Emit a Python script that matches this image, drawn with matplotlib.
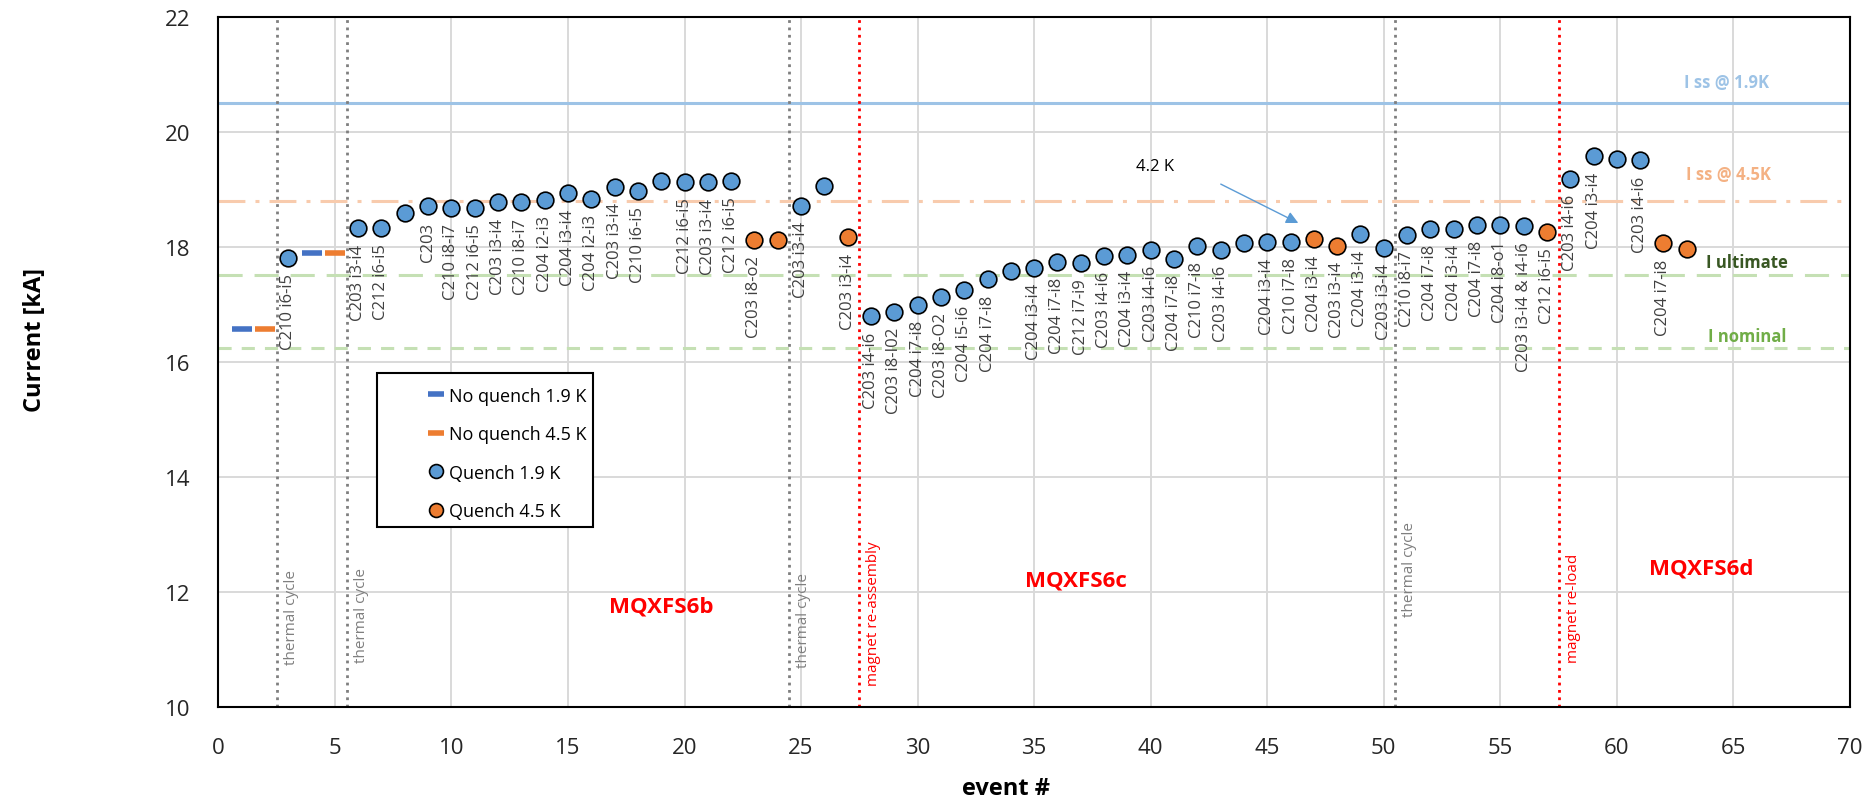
import matplotlib
matplotlib.use("Agg")
import matplotlib.pyplot as plt
from matplotlib.lines import Line2D
from matplotlib.patches import Rectangle

plt.rcParams['font.family'] = ['Open Sans', 'DejaVu Sans']

# no-quench ramps (drawn as short dashes)
nq19_x = [1, 4]
nq19_y = [16.57, 17.89]
nq45_x = [2, 5]
nq45_y = [16.57, 17.89]

# quenches at 1.9 K
q19_x = [3, 6, 7, 8, 9, 10, 11, 12, 13, 14, 15, 16, 17, 18, 19, 20, 21, 22,
         25, 26,
         28, 29, 30, 31, 32, 33, 34, 35, 36, 37, 38, 39, 40, 41, 42, 43, 44, 45, 46,
         49, 50, 51, 52, 53, 54, 55, 56,
         58, 59, 60, 61]
q19_y = [17.81, 18.32, 18.32, 18.59, 18.70, 18.68, 18.68, 18.77, 18.77, 18.82, 18.93, 18.83,
         19.04, 18.97, 19.14, 19.12, 19.12, 19.14,
         18.71, 19.06,
         16.79, 16.87, 16.99, 17.12, 17.25, 17.43, 17.57, 17.63, 17.74, 17.71, 17.84, 17.86,
         17.95, 17.79, 18.02, 17.95, 18.06, 18.08, 18.09,
         18.22, 17.98, 18.20, 18.31, 18.31, 18.38, 18.38, 18.36,
         19.18, 19.57, 19.53, 19.50]
q19_lab = ["C210 i6-i5", "C203 i3-i4", "C212 i6-i5", "", "C203", "C210 i8-i7", "C212 i6-i5",
           "C203 i3-i4", "C210 i8-i7", "C204 i2-i3", "C204 i3-i4", "C204 i2-i3", "C203 i3-i4",
           "C210 i6-i5", "", "C212 i6-i5", "C203 i3-i4", "C212 i6-i5",
           "C203 i3-i4", "",
           "C203 i4-i6", "C203 i8-I02", "C204 i7-i8", "C203 i8-O2", "C204 i5-i6", "C204 i7-i8",
           "", "C204 i3-i4", "C204 i7-i8", "C212 i7-i9", "C203 i4-i6", "C204 i3-i4",
           "C203 i4-i6", "C204 i7-i8", "C210 i7-i8", "C203 i4-i6", "", "C204 i3-i4", "C210 i7-i8",
           "C204 i3-i4", "C203 i3-i4", "C210 i8-i7", "C204 i7-i8", "C204 i3-i4", "C204 i7-i8",
           "C204 i8-o1", "C203 i3-i4 & i4-i6",
           "C203 i4-i6", "C204 i3-i4", "", "C203 i4-i6"]

# quenches at 4.5 K
q45_x = [23, 24, 27, 47, 48, 57, 62, 63]
q45_y = [18.12, 18.12, 18.16, 18.13, 18.02, 18.25, 18.06, 17.96]
q45_lab = ["C203 i8-o2", "", "C203 i3-i4", "C204 i3-i4", "C203 i3-i4", "C212 i6-i5",
           "C204 i7-i8", ""]

# reference currents [kA]
i_ss19 = 20.5
i_ss45 = 18.8
i_ult = 17.5
i_nom = 16.23

thermal_x = [2.5, 5.5, 24.5, 50.5]
thermal_txt_y = [10.74, 10.77, 10.69, 11.58]
magnet_x = [27.5, 57.5]
magnet_txt = ["magnet re-assembly", "magnet re-load"]
magnet_txt_y = [10.38, 10.78]

fig = plt.figure(figsize=(18.66, 8.04), dpi=100)
ax = fig.add_axes([0.117, 0.1198, 0.8744, 0.8582])

ax.set_xlim(0, 70)
ax.set_ylim(10, 22)
ax.set_xticks(range(0, 71, 5))
ax.set_yticks(range(10, 23, 2))
ax.grid(True, color='#D9D9D9', lw=1.4, zorder=0)
ax.set_axisbelow(True)
for s in ax.spines.values():
    s.set_color('black')
    s.set_linewidth(1.5)
ax.tick_params(length=0, labelsize=16, colors='#262626')
ax.tick_params(axis='y', pad=20)
ax.tick_params(axis='x', pad=22)

ax.axhline(i_ss19, color='#9DC3E6', lw=2.2, zorder=1)
ax.axhline(i_ss45, color='#F8CBAD', lw=2.2, dashes=(8.8, 3.3, 1.3, 3.3), zorder=1)
ax.axhline(i_ult, color='#C5E0B4', lw=2.2, dashes=(7.9, 3.9), zorder=1)
ax.axhline(i_nom, color='#C5E0B4', lw=2.2, dashes=(4.3, 3.3), zorder=1)

for xv, ty in zip(thermal_x, thermal_txt_y):
    ax.axvline(xv, color='#7F7F7F', lw=2, ls=':', zorder=1)
    ax.text(xv + 0.3, ty, "thermal cycle", rotation=90, ha='left', va='bottom',
            fontsize=11, color='#7F7F7F')
for xv, t, ty in zip(magnet_x, magnet_txt, magnet_txt_y):
    ax.axvline(xv, color='#FF0000', lw=2, ls=':', zorder=1)
    ax.text(xv + 0.3, ty, t, rotation=90, ha='left', va='bottom',
            fontsize=11, color='#FF0000')

ax.plot(nq19_x, nq19_y, ls='none', marker='_', ms=14, mew=4, color='#4472C4', zorder=3)
ax.plot(nq45_x, nq45_y, ls='none', marker='_', ms=14, mew=4, color='#ED7D31', zorder=3)
ax.plot(q19_x, q19_y, ls='none', marker='o', ms=12, mfc='#5B9BD5', mec='black', mew=1.2, zorder=4)
ax.plot(q45_x, q45_y, ls='none', marker='o', ms=12, mfc='#ED7D31', mec='black', mew=1.2, zorder=4)

for xs, ys, labs in [(q19_x, q19_y, q19_lab), (q45_x, q45_y, q45_lab)]:
    for xv, yv, lab in zip(xs, ys, labs):
        if lab:
            ax.annotate(lab, (xv, yv), xytext=(0, -11), textcoords='offset points',
                        rotation=90, ha='center', va='top', fontsize=12, color='#404040', zorder=5)

ax.text(64.7, 20.87, "I ss @ 1.9K", color='#9DC3E6', fontsize=12, fontweight='bold', ha='center', va='center')
ax.text(64.8, 19.26, "I ss @ 4.5K", color='#F4B183', fontsize=12, fontweight='bold', ha='center', va='center')
ax.text(65.6, 17.74, "I ultimate", color='#385723', fontsize=12, fontweight='bold', ha='center', va='center')
ax.text(65.6, 16.45, "I nominal", color='#70AD47', fontsize=12, fontweight='bold', ha='center', va='center')

ax.text(19.0, 11.75, "MQXFS6b", color='#FF0000', fontsize=16, fontweight='bold', ha='center', va='center')
ax.text(36.8, 12.2, "MQXFS6c", color='#FF0000', fontsize=16, fontweight='bold', ha='center', va='center')
ax.text(63.6, 12.41, "MQXFS6d", color='#FF0000', fontsize=16, fontweight='bold', ha='center', va='center')

ax.annotate("", xy=(46.44, 18.39), xytext=(42.9, 19.11),
            arrowprops=dict(arrowstyle='-|>', color='#5B9BD5', lw=1, mutation_scale=18))
ax.text(40.17, 19.41, "4.2 K", fontsize=12, color='black', ha='center', va='center')

ax.set_xlabel("event #", fontsize=17, fontweight='bold')
ax.set_ylabel("Current [kA]", fontsize=17, fontweight='bold')
ax.xaxis.set_label_coords(0.483, -0.10)
ax.yaxis.set_label_coords(-0.105, 0.533)

# legend: frame drawn separately so the entries can sit to the right
handles = [
    Line2D([], [], ls='none', marker='_', ms=11, mew=4, color='#4472C4'),
    Line2D([], [], ls='none', marker='_', ms=11, mew=4, color='#ED7D31'),
    Line2D([], [], ls='none', marker='o', ms=10, mfc='#5B9BD5', mec='black', mew=1.2),
    Line2D([], [], ls='none', marker='o', ms=10, mfc='#ED7D31', mec='black', mew=1.2),
]
labels = ["No quench 1.9 K", "No quench 4.5 K", "Quench 1.9 K", "Quench 4.5 K"]
leg = ax.legend(handles, labels, loc='upper left', bbox_to_anchor=(0.128, 0.464),
                frameon=False, fontsize=13, handlelength=1.0, handletextpad=0.2,
                labelspacing=1.14, borderpad=0, borderaxespad=0)
leg.set_zorder(6)
ax.add_patch(Rectangle((0.097, 0.26), 0.1325, 0.224, transform=ax.transAxes,
                       fill=True, facecolor='white', edgecolor='black', lw=1.5, zorder=5.5))

fig.savefig("out.png", dpi=100)
